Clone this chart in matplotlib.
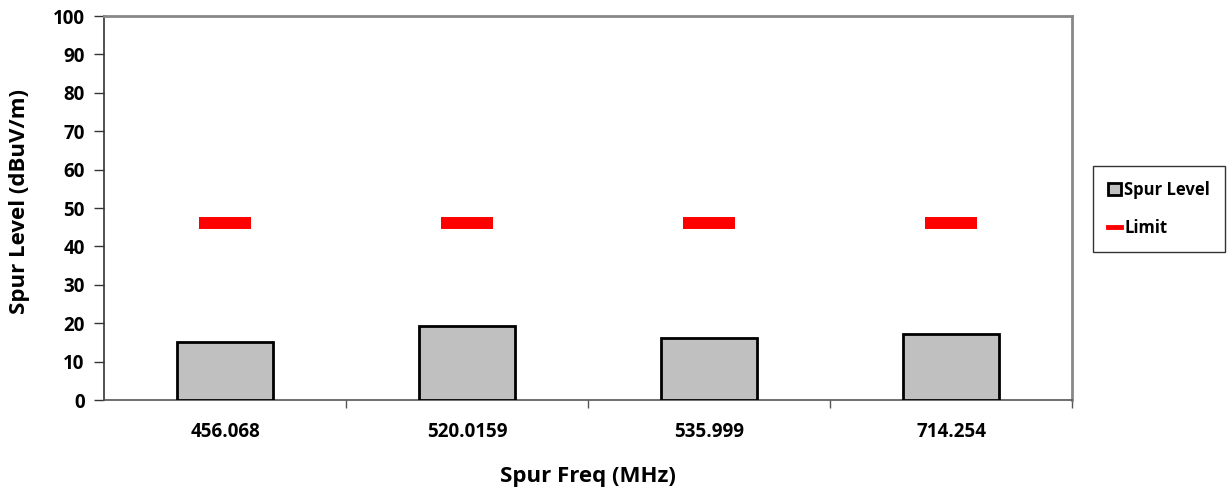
import matplotlib.pyplot as plt
from matplotlib.lines import Line2D
from matplotlib.patches import Patch

freqs = ["456.068", "520.0159", "535.999", "714.254"]
spur_level = [15.0, 19.3, 16.1, 17.1]
limit = [46.0, 46.0, 46.0, 46.0]

plt.rcParams['font.family'] = ['Open Sans', 'DejaVu Sans']
plt.rcParams['font.weight'] = 'bold'

fig = plt.figure(figsize=(12.27, 4.96), dpi=100)
ax = fig.add_axes([0.0848, 0.1935, 0.7889, 0.7742])

x = list(range(len(freqs)))
ax.bar(x, spur_level, width=0.4, color='#c0c0c0', edgecolor='black', linewidth=2, zorder=3)
ax.plot(x, limit, linestyle='none', marker='_', markersize=37.5, markeredgewidth=8.6,
        color='red', zorder=4)

ax.set_xlim(-0.5, len(freqs) - 0.5)
ax.set_ylim(0, 100)
ax.set_yticks(range(0, 101, 10))
ax.set_xticks(x)
ax.set_xticklabels(freqs, fontweight='bold')
ax.set_xticks([0.5, 1.5, 2.5, 3.5], minor=True)
ax.tick_params(axis='x', which='major', length=0, pad=16, labelsize=13.5)
ax.tick_params(axis='x', which='minor', length=6, width=1, color='#555555', direction='out')
ax.tick_params(axis='y', length=7, width=1, color='#333333', direction='out', labelsize=13.5, pad=7)
for t in ax.get_yticklabels():
    t.set_fontweight('bold')

for s in ['top', 'right']:
    ax.spines[s].set_color('#888888')
    ax.spines[s].set_linewidth(2)
ax.spines['left'].set_color('#333333')
ax.spines['left'].set_linewidth(1.2)
ax.spines['bottom'].set_color('#555555')
ax.spines['bottom'].set_linewidth(1.2)

ax.set_xlabel("Spur Freq (MHz)", fontsize=16, fontweight='bold')
ax.set_ylabel("Spur Level (dBuV/m)", fontsize=16, fontweight='bold')
ax.xaxis.set_label_coords(0.5, -0.172)
ax.yaxis.set_label_coords(-0.077, 0.516)

handles = [Patch(facecolor='#c0c0c0', edgecolor='black', linewidth=2, label='Spur Level'),
           Line2D([0], [0], color='red', linewidth=3.5, label='Limit')]
leg = fig.legend(handles=handles, loc='upper left', bbox_to_anchor=(0.891, 0.666),
                 frameon=True, fancybox=False, edgecolor='black',
                 prop={'size': 12, 'weight': 'bold'},
                 handlelength=0.75, handleheight=0.75, handletextpad=0.2,
                 labelspacing=1.2, borderpad=0.9, borderaxespad=0)
leg.get_frame().set_linewidth(1)

fig.savefig("out.png", dpi=100)
